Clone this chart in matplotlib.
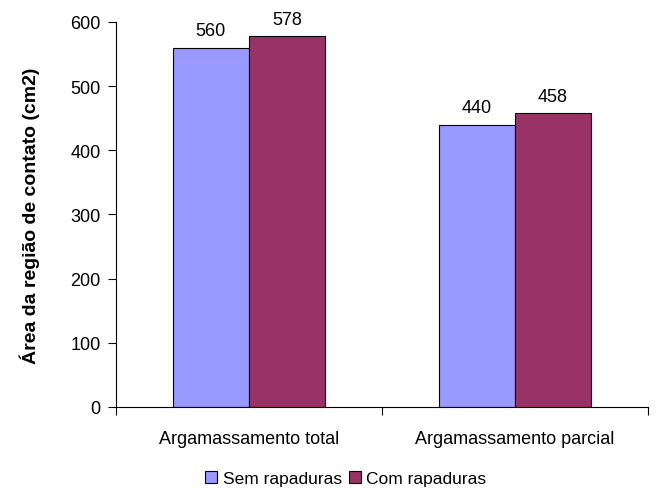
import numpy as np
import matplotlib.pyplot as plt
from matplotlib.patches import Patch

plt.rcParams['font.family'] = ['Liberation Sans', 'DejaVu Sans']

categorias = ["Argamassamento total", "Argamassamento parcial"]
sem_rapaduras = [560, 440]
com_rapaduras = [578, 458]
series = ["Sem rapaduras", "Com rapaduras"]
cores = ["#9999FF", "#993366"]

FS = 13

fig = plt.figure(figsize=(6.7, 4.89), dpi=100)
ax = fig.add_axes([0.173, 0.166, 0.794, 0.787])

x = np.arange(len(categorias))
w = 0.286
ax.bar(x - w / 2, sem_rapaduras, w, color=cores[0], edgecolor="black", linewidth=0.8)
ax.bar(x + w / 2, com_rapaduras, w, color=cores[1], edgecolor="black", linewidth=0.8)

for xi, v in zip(x - w / 2, sem_rapaduras):
    ax.text(xi, v + 13, str(v), ha="center", va="bottom", fontsize=FS)
for xi, v in zip(x + w / 2, com_rapaduras):
    ax.text(xi, v + 13, str(v), ha="center", va="bottom", fontsize=FS)

ax.set_xlim(-0.5, 1.5)
ax.set_ylim(0, 600)
ax.set_yticks(np.arange(0, 601, 100))
ax.tick_params(axis="y", direction="out", length=6, labelsize=FS, width=0.8, pad=5)

# categorias entre marcas de separação
ax.set_xticks([-0.5, 0.5, 1.5])
ax.set_xticklabels([])
ax.set_xticks(x, minor=True)
ax.set_xticklabels(categorias, minor=True, fontsize=FS)
ax.tick_params(axis="x", which="major", direction="out", length=6, width=0.8)
ax.tick_params(axis="x", which="minor", length=0, pad=17)

for s in ["top", "right"]:
    ax.spines[s].set_visible(False)
ax.spines["left"].set_linewidth(0.8)
ax.spines["bottom"].set_linewidth(0.8)

ax.set_ylabel("Área da região de contato (cm2)", fontsize=14, fontweight="bold", labelpad=22)

handles = [Patch(facecolor=c, edgecolor="black", linewidth=0.8, label=s) for c, s in zip(cores, series)]
fig.legend(handles=handles, loc="center", bbox_to_anchor=(0.516, 0.02), ncol=2, frameon=False,
           fontsize=12.5, handlelength=0.7, handleheight=0.7, handletextpad=0.3, columnspacing=0.4)

fig.savefig("out.png")
